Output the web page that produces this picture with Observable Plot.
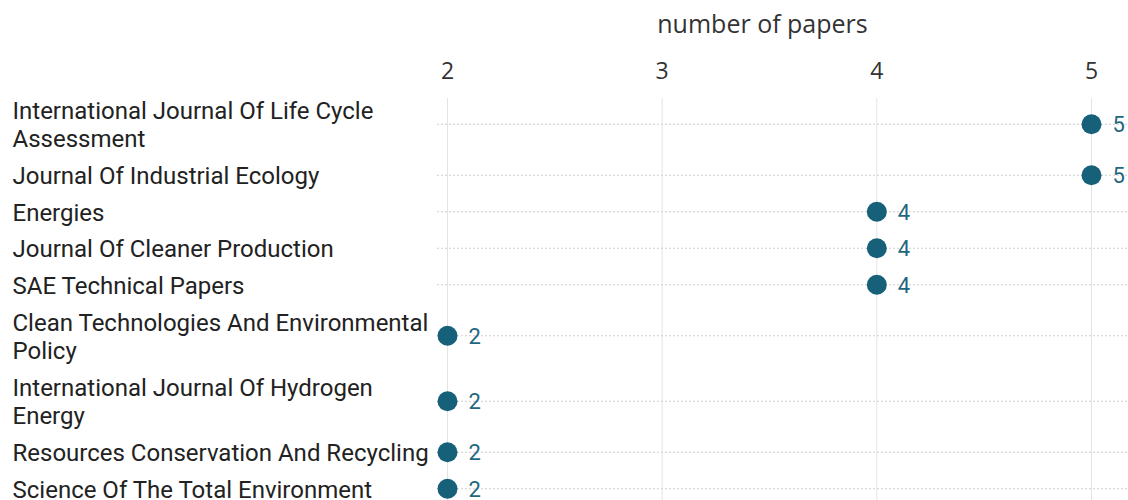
<!DOCTYPE html>
<html><head><meta charset="utf-8">
<script src="https://cdn.jsdelivr.net/npm/d3@7"></script>
<script src="https://cdn.jsdelivr.net/npm/@observablehq/plot@0.6"></script>
<style>html,body{margin:0;padding:0;background:#fff}</style>
</head><body><div id="chart"></div>
<script>
const journals = [
  "International Journal Of Life Cycle Assessment",
  "Journal Of Industrial Ecology",
  "Energies",
  "Journal Of Cleaner Production",
  "SAE Technical Papers",
  "Clean Technologies And Environmental Policy",
  "International Journal Of Hydrogen Energy",
  "Resources Conservation And Recycling",
  "Science Of The Total Environment"
];
const papers = [5, 5, 4, 4, 4, 2, 2, 2, 2];
const xTicks = [2, 3, 4, 5];
const xTitle = "number of papers";

const labelFont = 24;
const ctx = document.createElement("canvas").getContext("2d");
ctx.font = labelFont + "px Roboto";
function wrap(s, maxW) {
  const words = s.split(" ");
  const lines = [];
  let cur = "";
  for (const w of words) {
    const t = cur ? cur + " " + w : w;
    if (cur && ctx.measureText(t).width > maxW) { lines.push(cur); cur = w; }
    else cur = t;
  }
  lines.push(cur);
  return lines;
}

let acc = 0;
const rows = journals.map((j, i) => {
  const lines = wrap(j, 424);
  const h = 29 * lines.length + 7.5;
  const pos = acc + h / 2;
  acc += h;
  return {journal: j, label: lines.join("\n"), count: papers[i], pos};
});
const total = acc;

const chart = Plot.plot({
  width: 1128,
  height: 500,
  marginLeft: 437,
  marginRight: 0,
  marginTop: 98,
  marginBottom: 0,
  x: {domain: [xTicks[0], xTicks[xTicks.length - 1]], range: [447, 1091]},
  y: {domain: [0, total], range: [91, 91 + total], axis: null},
  style: {fontFamily: "Roboto", fontSize: "24px", color: "#222", background: "#fff"},
  marks: [
    Plot.gridX(xTicks, {stroke: "#e4e4e4", strokeOpacity: 1, strokeWidth: 1}),
    Plot.ruleY(rows, {y: "pos", stroke: "#cdcdcd", strokeDasharray: "2,2", strokeWidth: 1}),
    Plot.axisX(xTicks, {anchor: "top", tickSize: 0, tickPadding: 20, tickFormat: d3.format("d"),
      fontSize: 23, fontFamily: "Open Sans", fill: "#333", label: null}),
    Plot.text([xTitle], {x: () => (xTicks[0] + xTicks[xTicks.length - 1]) / 2, frameAnchor: "top",
      dx: -7, dy: -83, fontSize: 25, fontFamily: "Open Sans", fill: "#333", text: d => d}),
    Plot.text(rows, {y: "pos", text: "label", frameAnchor: "left", textAnchor: "start", dx: -425,
      lineHeight: 28 / labelFont, fontSize: labelFont, fill: "#222"}),
    Plot.dot(rows, {x: "count", y: "pos", r: 10, fill: "#17607a", stroke: null}),
    Plot.text(rows, {x: "count", y: "pos", text: d => String(d.count), dx: 21, dy: 1, textAnchor: "start",
      fill: "#1f6680", fontSize: 22})
  ]
});
document.getElementById("chart").append(chart);
</script>
</body></html>
